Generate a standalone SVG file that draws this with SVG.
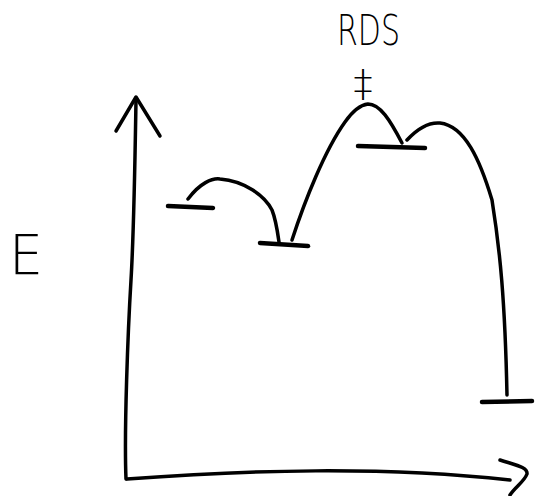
<svg xmlns="http://www.w3.org/2000/svg" width="535" height="496" viewBox="0 0 535 496">
  <style>
    .ink { fill: none; stroke: #000; stroke-linecap: round; stroke-linejoin: round; }
    .axis { stroke-width: 3.5; }
    .curve { stroke-width: 3.5; }
    .level { stroke-width: 4.5; }
    .hand { font-family: "DejaVu Sans", "Liberation Sans", sans-serif; font-weight: 200; fill: #000; }
  </style>
  <rect width="535" height="496" fill="#fff"/>

  <!-- axes -->
  <g id="axes">
    <path class="ink axis" d="M126,479 C124,430 128,330 131,280 C134,230 135,160 136,100"/>
    <path class="ink axis" d="M116,131 L136,97 L160,136"/>
    <path class="ink axis" d="M127,479 C250,470 380,466 510,480"/>
    <path class="ink axis" d="M500,460 C515,465 528,467 527,474 C524,482 515,487 510,495"/>
  </g>

  <!-- energy axis label -->
  <g id="label-E">
    <text class="hand" x="9" y="274" font-size="56" textLength="34" lengthAdjust="spacingAndGlyphs">E</text>
  </g>

  <!-- energy levels -->
  <g id="levels">
    <path class="ink level" d="M168,206 L213,208"/>
    <path class="ink level" d="M260,243 L308,246"/>
    <path class="ink level" d="M358,146 L425,148"/>
    <path class="ink level" d="M482,402 L532,401"/>
  </g>

  <!-- reaction path humps -->
  <g id="connectors">
    <path class="ink curve" d="M188,199 C200,183 212,178 220,179 C245,181 265,196 272,210 C276,220 278,235 279,242"/>
    <path class="ink curve" d="M292,240 C305,200 325,150 345,122 C352,112 360,105 368,104 C380,104 390,120 402,143"/>
    <path class="ink curve" d="M407,140 C418,128 428,122 440,123 C465,126 480,160 492,200 C500,250 505,300 507,395"/>
  </g>

  <!-- rate-determining step marker -->
  <g id="rds">
    <text class="hand" x="337" y="45" font-size="42" textLength="63" lengthAdjust="spacingAndGlyphs">RDS</text>
    <text class="hand" x="363" y="96" font-size="38" text-anchor="middle">‡</text>
  </g>
</svg>
